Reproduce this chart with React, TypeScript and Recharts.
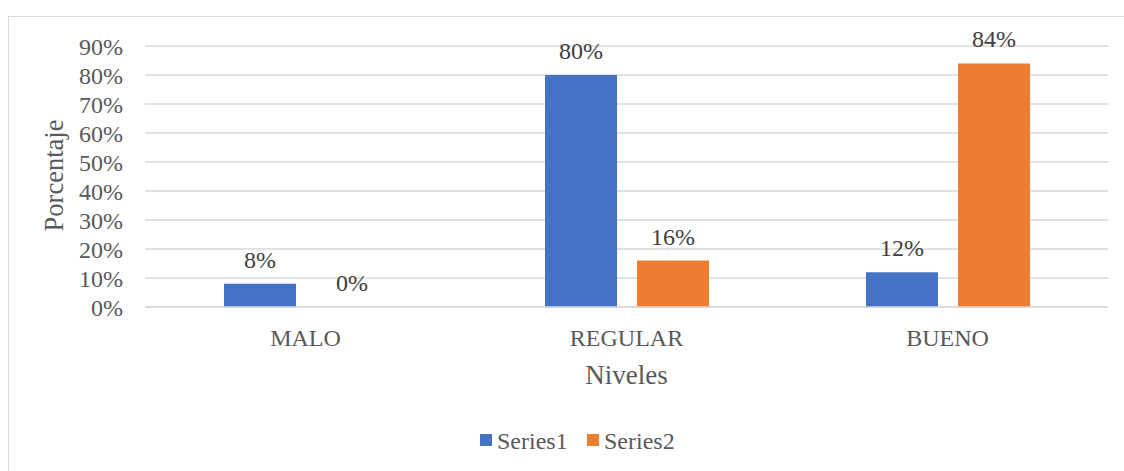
import React from 'react';
import { BarChart, Bar, XAxis, YAxis, CartesianGrid, LabelList, Legend } from 'recharts';

const categories = ['MALO', 'REGULAR', 'BUENO'];
const series1 = [8, 80, 12];
const series2 = [0, 16, 84];
const yTicks = [0, 10, 20, 30, 40, 50, 60, 70, 80, 90];
const seriesNames = ['Series1', 'Series2'];

const data = categories.map((c, i) => ({ name: c, s1: series1[i], s2: series2[i] }));

const FONT = '"Liberation Serif", "Times New Roman", serif';
const TXT = '#595959';
const BLUE = '#4472C4';
const ORANGE = '#ED7D31';

const pct = (v: any) => `${v}%`;

const LegendContent = (props: any) => {
  const payload = props.payload || [];
  const xs = [480, 587];
  return (
    <svg width={1124} height={30} style={{ display: 'block' }}>
      {payload.map((p: any, i: number) => (
        <g key={i}>
          <rect x={xs[i]} y={6} width={12} height={12} fill={p.color} />
          <text x={xs[i] + 17} y={21} style={{ fontFamily: FONT }} fontSize={24} fill={TXT}>
            {p.value}
          </text>
        </g>
      ))}
    </svg>
  );
};

const YTitle = (props: any) => {
  const vb = props.viewBox || { x: 0, y: 0, width: 0, height: 0 };
  const cy = vb.y + vb.height / 2 - 1;
  return (
    <text
      transform={`translate(63, ${cy}) rotate(-90)`}
      textAnchor="middle"
      style={{ fontFamily: FONT }}
      fontSize={26.5}
      fill={TXT}
    >
      Porcentaje
    </text>
  );
};

const XTitle = (props: any) => {
  const vb = props.viewBox || { x: 0, y: 0, width: 0, height: 0 };
  return (
    <text
      x={vb.x + vb.width / 2}
      y={vb.y + 77}
      textAnchor="middle"
      style={{ fontFamily: FONT }}
      fontSize={27}
      fill={TXT}
    >
      Niveles
    </text>
  );
};

const DataLabel = (props: any) => {
  const { x, y, width, value } = props;
  if (x == null || y == null) return null;
  return (
    <text
      x={Number(x) + Number(width) / 2}
      y={Number(y) - 16}
      textAnchor="middle"
      style={{ fontFamily: FONT }}
      fontSize={24}
      fill="#404040"
    >
      {pct(value)}
    </text>
  );
};

export default function App() {
  return (
    <div style={{ position: 'fixed', left: 0, top: 0, width: 1124, height: 471, overflow: 'hidden', background: '#fff', fontFamily: FONT }}>
      <div
        style={{
          position: 'absolute',
          left: 8,
          top: 16,
          width: 1160,
          height: 520,
          border: '1.5px solid #d9d9d9',
          boxSizing: 'border-box',
        }}
      />
      <div style={{ position: 'absolute', left: 0, top: 0, fontFamily: FONT }}>
        <BarChart
          width={1124}
          height={471}
          data={data}
          margin={{ top: 46, right: 16, bottom: 124, left: 0 }}
          barSize={72}
          barGap={20}
          style={{ fontFamily: FONT }}
        >
          <CartesianGrid vertical={false} stroke="#d9d9d9" strokeWidth={1.3} />
          <XAxis
            dataKey="name"
            height={40}
            axisLine={{ stroke: '#d9d9d9', strokeWidth: 1.3 }}
            tickLine={false}
            tickMargin={16}
            interval={0}
            tick={{ fill: TXT, fontSize: 24, style: { fontFamily: FONT } }}
            label={{ content: <XTitle /> }}
          />
          <YAxis
            width={145}
            domain={[0, 90]}
            ticks={yTicks}
            interval={0}
            axisLine={false}
            tickLine={false}
            tickMargin={16}
            tickFormatter={pct}
            tick={{ fill: TXT, fontSize: 24, style: { fontFamily: FONT } }}
            label={{ content: <YTitle /> }}
          />
          <Legend
            layout="horizontal"
            verticalAlign="middle"
            align="center"
            content={<LegendContent />}
            wrapperStyle={{ left: 0, top: 428, width: 1124, height: 30 }}
          />
          <Bar dataKey="s1" name={seriesNames[0]} fill={BLUE} isAnimationActive={false} minPointSize={0.01}>
            <LabelList dataKey="s1" content={<DataLabel />} />
          </Bar>
          <Bar dataKey="s2" name={seriesNames[1]} fill={ORANGE} isAnimationActive={false} minPointSize={0.01}>
            <LabelList dataKey="s2" content={<DataLabel />} />
          </Bar>
        </BarChart>
      </div>
    </div>
  );
}
